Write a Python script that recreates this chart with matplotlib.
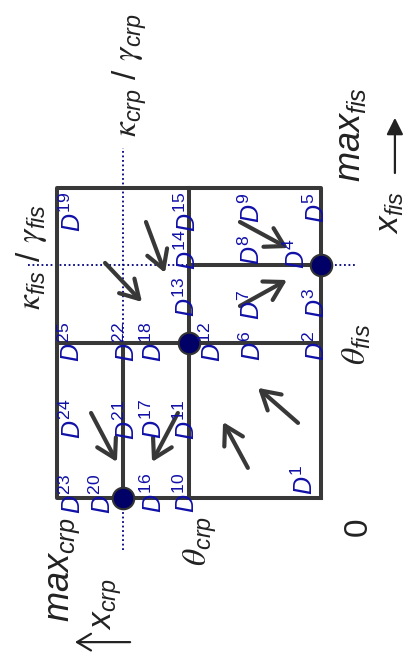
import numpy as np
import matplotlib
matplotlib.use('Agg')
import matplotlib.pyplot as plt
from matplotlib.patches import FancyArrowPatch

plt.rcParams['font.family'] = ['Liberation Sans', 'DejaVu Sans']
plt.rcParams['mathtext.fontset'] = 'custom'
plt.rcParams['mathtext.rm'] = 'Liberation Sans'
plt.rcParams['mathtext.it'] = 'Liberation Sans:italic'
plt.rcParams['mathtext.bf'] = 'Liberation Sans:bold'
# lettres grecques en italique "math"
plt.rcParams['mathtext.sf'] = 'STIXGeneral:italic'

# Seuils (normalisés) sur les deux axes : x_crp (horizontal, vers la gauche)
# et x_fis (vertical, vers le haut)
max_crp, theta_crp, kappa_crp = 1.0, 0.5, 0.75
max_fis, theta_fis, kappa_fis = 1.0, 0.5, 0.75

# Etiquettes des régions D1..D25 : (x_crp, x_fis)
d_num = list(range(1, 26))
d_crp = [0.061, 0.015, 0.015, 0.091, 0.015, 0.258, 0.261, 0.261, 0.261,
         0.508, 0.508, 0.409, 0.508, 0.504, 0.504, 0.633, 0.633, 0.633,
         0.939, 0.826, 0.735, 0.735, 0.939, 0.939, 0.943]
d_fis = [0.058, 0.490, 0.629, 0.790, 0.935, 0.490, 0.623, 0.800, 0.935,
         0.016, 0.252, 0.503, 0.648, 0.800, 0.923, 0.016, 0.255, 0.503,
         0.923, 0.013, 0.252, 0.503, 0.013, 0.255, 0.503]

# Flèches de dynamique : départ -> arrivée
arr_crp0 = [0.663, 0.818, 0.307, 0.307, 0.871, 0.542, 0.277, 0.087]
arr_fis0 = [0.890, 0.758, 0.890, 0.619, 0.274, 0.274, 0.097, 0.242]
arr_crp1 = [0.591, 0.678, 0.125, 0.129, 0.773, 0.640, 0.371, 0.239]
arr_fis1 = [0.726, 0.632, 0.806, 0.703, 0.116, 0.116, 0.245, 0.355]

# Points fixes
pt_crp = [0.0, theta_crp, kappa_crp]
pt_fis = [kappa_fis, theta_fis, 0.0]

line_c = '#383838'
lab_c = '#1010a8'
dot_c = '#000066'

fig = plt.figure(figsize=(4.06, 6.66), dpi=100)
ax = fig.add_axes([0, 0, 1, 1])
ax.set_xlim(1.2159, -0.322)
ax.set_ylim(-0.542, 1.606)
ax.axis('off')

# Lignes pointillées des seuils kappa
ax.plot([kappa_crp, kappa_crp], [-0.168, 1.129], ls=(0, (1, 1.5)), color='#000080', lw=1.3, zorder=1)
ax.plot([1.11, -0.129], [kappa_fis, kappa_fis], ls=(0, (1, 1.5)), color='#000080', lw=1.3, zorder=1)

# Cadre et séparations
ax.plot([0, max_crp, max_crp, 0, 0], [0, 0, max_fis, max_fis, 0], color=line_c, lw=2.9, zorder=2)
ax.plot([theta_crp, theta_crp], [0, max_fis], color=line_c, lw=2.9, zorder=2)
ax.plot([0, max_crp], [theta_fis, theta_fis], color=line_c, lw=2.9, zorder=2)
ax.plot([0, theta_crp], [kappa_fis, kappa_fis], color=line_c, lw=2.9, zorder=2)
ax.plot([kappa_crp, kappa_crp], [0, theta_fis], color=line_c, lw=2.9, zorder=2)

for a, b, c, d in zip(arr_crp0, arr_fis0, arr_crp1, arr_fis1):
    ax.add_patch(FancyArrowPatch((a, b), (c, d),
                                 arrowstyle='->,head_length=0.65,head_width=0.38',
                                 mutation_scale=20, color=line_c, lw=3.0,
                                 shrinkA=0, shrinkB=0, zorder=3))

ax.plot(pt_crp, pt_fis, 'o', ms=15.5, mfc=dot_c, mec='#333333', mew=1.5, zorder=4)

for n, xc, yf in zip(d_num, d_crp, d_fis):
    ax.text(xc, yf, r'$D^{\mathrm{%d}}$' % n, rotation=90, ha='center', va='center',
            color=lab_c, fontsize=18, zorder=5)

txt = dict(rotation=90, ha='center', va='center', color='#222222')
ax.text(0.723, 1.365, r'$\mathsf{\kappa}_{crp}$ / $\mathsf{\gamma}_{crp}$', fontsize=24, **txt)
ax.text(-0.110, 1.171, r'$max_{fis}$', fontsize=26, **txt)
ax.text(-0.262, 0.919, r'$x_{fis}$', fontsize=24, **txt)
ax.text(1.095, 0.777, r'$\mathsf{\kappa}_{fis}$ / $\mathsf{\gamma}_{fis}$', fontsize=24, **txt)
ax.text(-0.136, 0.494, r'$\mathsf{\theta}_{fis}$', fontsize=24, **txt)
ax.text(0.458, -0.139, r'$\mathsf{\theta}_{crp}$', fontsize=24, **txt)
ax.text(0.973, -0.232, r'$max_{crp}$', fontsize=26, **txt)
ax.text(0.807, -0.342, r'$x_{crp}$', fontsize=24, **txt)
ax.text(-0.140, -0.094, '0', fontsize=24, **txt)

# Flèches des axes
ax.add_patch(FancyArrowPatch((-0.280, 1.048), (-0.280, 1.226), arrowstyle='-|>,head_length=0.5,head_width=0.25',
                             mutation_scale=20, color='#222222', lw=1.6, shrinkA=0, shrinkB=0))
ax.add_patch(FancyArrowPatch((0.723, -0.465), (0.932, -0.465), arrowstyle='->,head_length=0.5,head_width=0.3',
                             mutation_scale=20, color='#222222', lw=1.6, shrinkA=0, shrinkB=0))

fig.savefig('out.png', dpi=100)
